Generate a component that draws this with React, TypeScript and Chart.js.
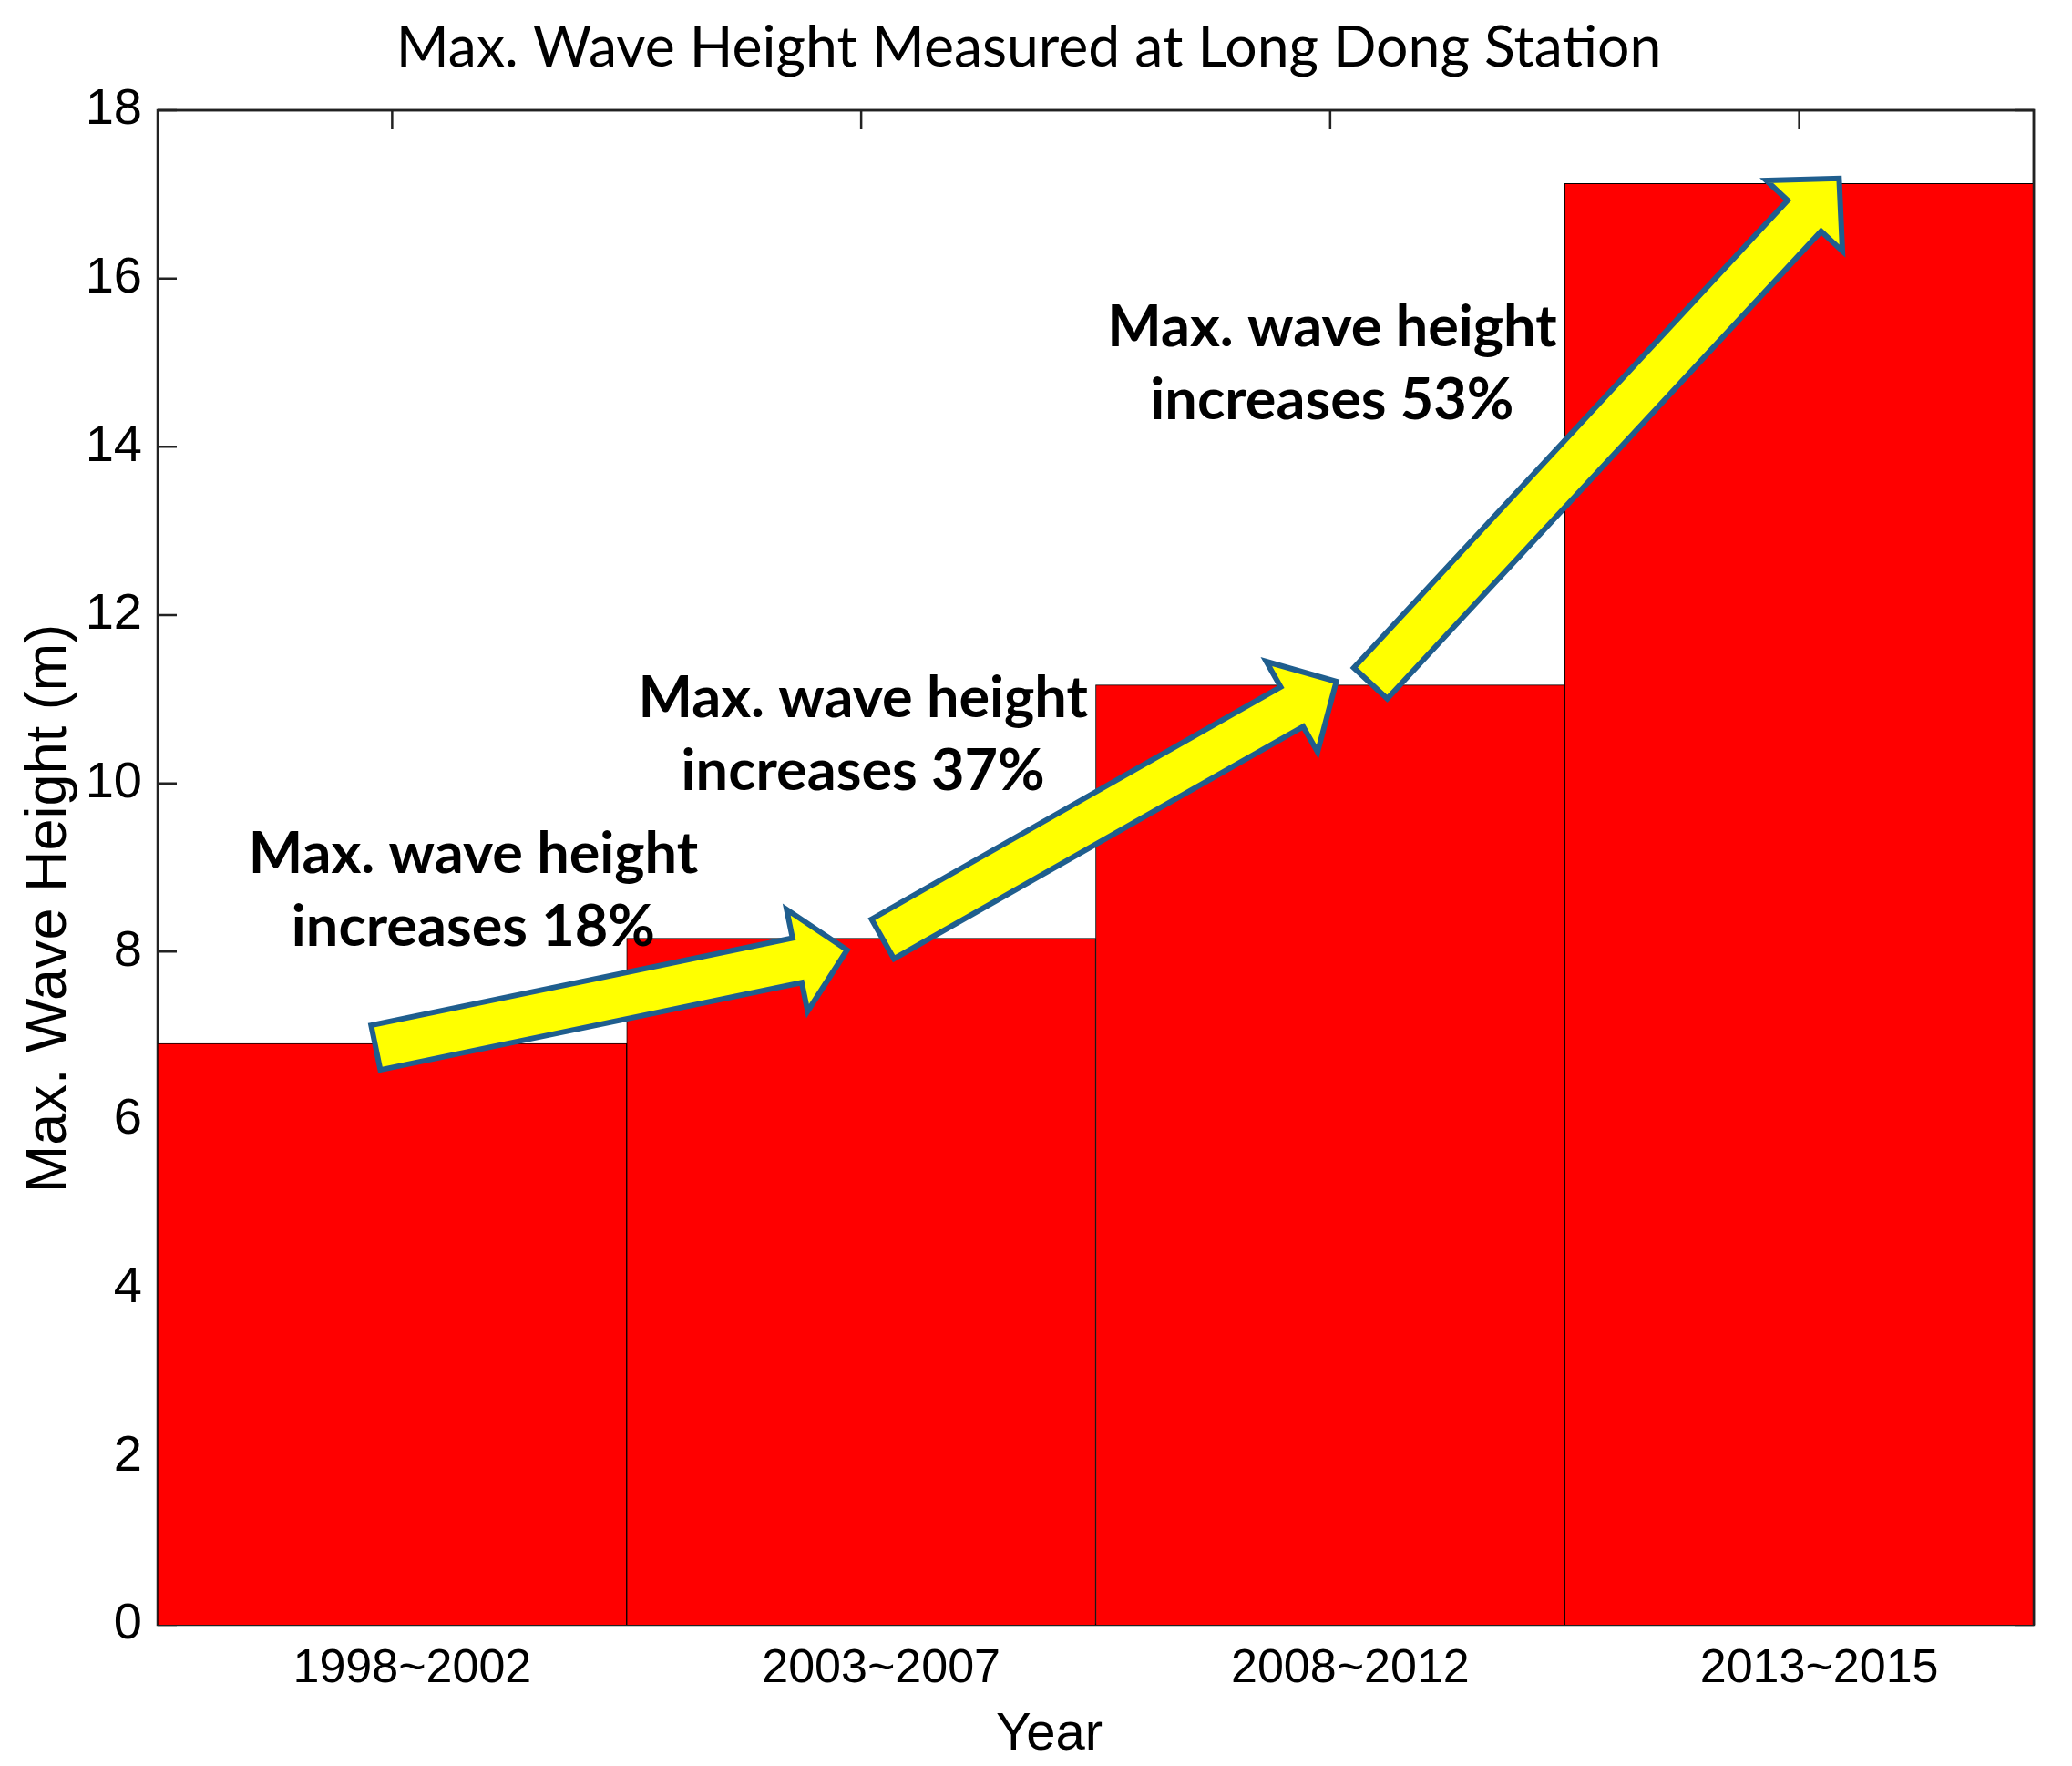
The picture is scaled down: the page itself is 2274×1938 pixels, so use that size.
import React, { useEffect, useRef } from "react";
import { Chart, registerables } from "chart.js";

Chart.register(...registerables);

// ---------- data ----------
const categories = ["1998~2002", "2003~2007", "2008~2012", "2013~2015"];
const maxWaveHeight = [6.91, 8.16, 11.17, 17.13];
const yMin = 0;
const yMax = 18;
const yStep = 2;

const chartTitle = "Max. Wave Height Measured at Long Dong Station";
const xAxisTitle = "Year";
const yAxisTitle = "Max. Wave Height (m)";

// annotation texts (anchor in data units: category index, value of first baseline)
const noteLines = [
  ["Max. wave height", "increases 18%"],
  ["Max. wave height", "increases 37%"],
  ["Max. wave height", "increases 53%"],
];
const noteX = [0.173, 1.004, 2.004];
const noteY = [8.94, 10.79, 15.19];

// arrows (data units: category index, value)
const arrowFromX = [-0.035, 1.046, 2.086];
const arrowFromY = [6.86, 8.15, 11.19];
const arrowToX = [0.97, 2.013, 3.085];
const arrowToY = [8.02, 11.21, 17.19];

// ---------- styles ----------
const W = 2274;
const H = 1938;
const TICK_LEN = 21;
const FRAME_COLOR = "#222222";
const BAR_COLOR = "#FF0000";
const ARROW_FILL = "#FFFF00";
const ARROW_EDGE = "#1F5E8E";

function drawArrow(
  ctx: CanvasRenderingContext2D,
  x0: number,
  y0: number,
  x1: number,
  y1: number
) {
  const shaft = 50;
  const headW = 114;
  const headL = 56;
  const ang = Math.atan2(y1 - y0, x1 - x0);
  const len = Math.hypot(x1 - x0, y1 - y0);
  ctx.save();
  ctx.translate(x0, y0);
  ctx.rotate(ang);
  ctx.beginPath();
  ctx.moveTo(0, -shaft / 2);
  ctx.lineTo(len - headL, -shaft / 2);
  ctx.lineTo(len - headL, -headW / 2);
  ctx.lineTo(len, 0);
  ctx.lineTo(len - headL, headW / 2);
  ctx.lineTo(len - headL, shaft / 2);
  ctx.lineTo(0, shaft / 2);
  ctx.closePath();
  ctx.fillStyle = ARROW_FILL;
  ctx.fill();
  ctx.lineJoin = "miter";
  ctx.strokeStyle = ARROW_EDGE;
  ctx.lineWidth = 6;
  ctx.stroke();
  ctx.restore();
}

const framePlugin = {
  id: "matlabFrame",
  beforeDatasetsDraw(chart: any) {
    const { ctx, chartArea, scales } = chart;
    const { left, right, top, bottom } = chartArea;
    const x = scales.x;
    const y = scales.y;
    ctx.save();
    ctx.strokeStyle = FRAME_COLOR;
    ctx.lineWidth = 2.5;
    ctx.beginPath();
    x.ticks.forEach((_: any, i: number) => {
      const px = x.getPixelForTick(i);
      ctx.moveTo(px, top);
      ctx.lineTo(px, top + TICK_LEN);
      ctx.moveTo(px, bottom);
      ctx.lineTo(px, bottom - TICK_LEN);
    });
    y.ticks.forEach((_: any, i: number) => {
      const py = y.getPixelForTick(i);
      ctx.moveTo(left, py);
      ctx.lineTo(left + TICK_LEN, py);
      ctx.moveTo(right, py);
      ctx.lineTo(right - TICK_LEN, py);
    });
    ctx.stroke();
    ctx.strokeRect(left, top, right - left, bottom - top);
    ctx.restore();
  },
  afterDatasetsDraw(chart: any) {
    const { ctx, chartArea, scales } = chart;
    const x = scales.x;
    const y = scales.y;
    ctx.save();
    ctx.strokeStyle = FRAME_COLOR;
    ctx.lineWidth = 2.5;
    ctx.beginPath();
    ctx.moveTo(chartArea.left, chartArea.top);
    ctx.lineTo(chartArea.right, chartArea.top);
    ctx.lineTo(chartArea.right, chartArea.bottom);
    ctx.stroke();
    ctx.restore();

    for (let i = 0; i < arrowFromX.length; i++) {
      drawArrow(
        ctx,
        x.getPixelForValue(arrowFromX[i]),
        y.getPixelForValue(arrowFromY[i]),
        x.getPixelForValue(arrowToX[i]),
        y.getPixelForValue(arrowToY[i])
      );
    }

    ctx.save();
    ctx.fillStyle = "#000";
    ctx.font = "bold 63px Lato";
    ctx.textAlign = "center";
    ctx.textBaseline = "alphabetic";
    for (let i = 0; i < noteLines.length; i++) {
      const px = x.getPixelForValue(noteX[i]);
      const py = y.getPixelForValue(noteY[i]);
      noteLines[i].forEach((line, j) => {
        ctx.fillText(line, px, py + j * 80);
      });
    }
    ctx.restore();
  },
  afterDraw(chart: any) {
    const { ctx, chartArea } = chart;
    const { left, right, top, bottom } = chartArea;
    ctx.save();
    ctx.fillStyle = "#000";
    // x axis title
    ctx.font = "58px 'Liberation Sans'";
    ctx.textAlign = "center";
    ctx.textBaseline = "alphabetic";
    ctx.fillText(xAxisTitle, (left + right) / 2 - 51, bottom + 137);
    // y axis title
    ctx.font = "63px 'Liberation Sans'";
    ctx.translate(72, (top + bottom) / 2 + 45);
    ctx.rotate(-Math.PI / 2);
    ctx.fillText(yAxisTitle, 0, 0);
    ctx.restore();
  },
};

export default function App() {
  const canvasRef = useRef<HTMLCanvasElement | null>(null);

  useEffect(() => {
    const canvas = canvasRef.current;
    if (!canvas) return;
    const chart = new Chart(canvas, {
      type: "bar",
      data: {
        labels: categories,
        datasets: [
          {
            data: maxWaveHeight,
            backgroundColor: BAR_COLOR,
            borderColor: "#000000",
            borderWidth: 1,
            barPercentage: 1,
            categoryPercentage: 1,
          },
        ],
      },
      options: {
        responsive: false,
        animation: false,
        devicePixelRatio: 1,
        layout: { padding: { left: 26, right: 42, top: 0, bottom: 0 } },
        plugins: {
          legend: { display: false },
          tooltip: { enabled: false },
          title: {
            display: true,
            text: chartTitle,
            color: "#000",
            font: { family: "Lato", size: 62.5, weight: "normal" },
            padding: { top: 15, bottom: 31 },
          },
        },
        scales: {
          x: {
            grid: { display: false, drawTicks: false },
            border: { display: false },
            ticks: {
              color: "#000",
              font: { family: "'Liberation Sans'", size: 52 },
              padding: 17,
              labelOffset: 22,
              maxRotation: 0,
            },
            afterFit: (s: any) => {
              s.height = 155;
            },
          },
          y: {
            min: yMin,
            max: yMax,
            grid: { display: false, drawTicks: false },
            border: { display: false },
            ticks: {
              stepSize: yStep,
              color: "#000",
              font: { family: "'Liberation Sans'", size: 56 },
              padding: 17,
            },
            afterFit: (s: any) => {
              s.width = 147;
            },
          },
        },
      },
      plugins: [framePlugin],
    });
    return () => chart.destroy();
  }, []);

  return (
    <div
      style={{
        position: "absolute",
        left: 0,
        top: 0,
        width: W,
        height: H,
        background: "#fff",
      }}
    >
      <canvas ref={canvasRef} width={W} height={H} style={{ display: "block" }} />
    </div>
  );
}
